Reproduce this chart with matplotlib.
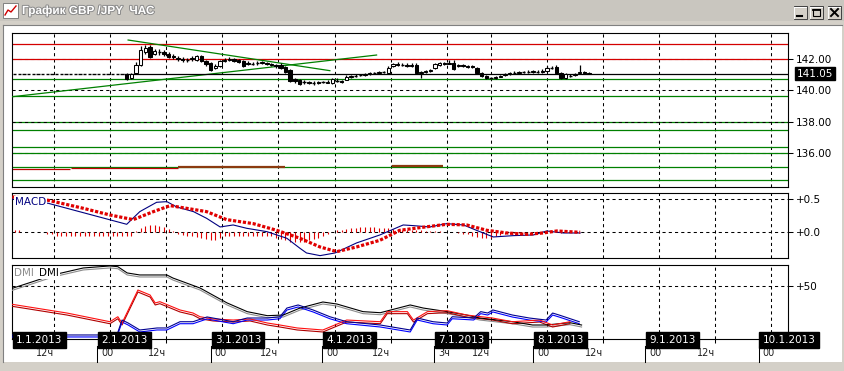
import matplotlib
matplotlib.use('Agg')
import matplotlib.pyplot as plt
from matplotlib.patches import Rectangle
from matplotlib.lines import Line2D
from matplotlib import transforms
import matplotlib.patheffects as pe

plt.rcParams['font.family'] = ['DejaVu Sans']

# ------------------------------------------------------------------ data
# hourly GBP/JPY bars (bar index 0 = first bar shown)
bar_open = [141.05, 141.05, 141.05, 141.05, 141.05, 141.05, 141.05, 141.05, 141.05, 141.05, 141.05, 141.05,
            141.05, 141.05, 141.05, 141.05, 141.05, 141.05, 141.05, 141.05, 141.05, 141.05, 141.05, 141.05,
            141.02, 140.77, 141.08, 141.59, 142.41, 142.73, 142.28, 142.41, 142.41, 142.28, 142.16, 142.03,
            141.97, 141.91, 141.97, 141.91, 142.16, 141.84, 141.72, 141.40, 141.53, 141.84, 141.91, 141.97,
            141.91, 141.84, 141.65, 141.65, 141.72, 141.72, 141.72, 141.65, 141.59, 141.59, 141.46, 141.27,
            140.70, 140.64, 140.51, 140.51, 140.45, 140.51, 140.51, 140.45, 140.45, 140.58, 140.58, 140.64,
            140.83, 140.89, 140.96, 140.96, 141.02, 141.08, 141.08, 141.15, 141.08, 141.53, 141.65, 141.59,
            141.59, 141.53, 141.59, 141.08, 141.15, 141.21, 141.40, 141.59, 141.72, 141.65, 141.72, 141.53,
            141.59, 141.53, 141.53, 141.40, 141.08, 140.89, 140.77, 140.77, 140.83, 140.96, 141.02, 141.08,
            141.08, 141.15, 141.15, 141.15, 141.15, 141.15, 141.21, 141.40, 141.46, 141.08, 140.77, 140.89,
            140.96, 141.08, 141.15, 141.08]
bar_high = [141.05, 141.05, 141.05, 141.05, 141.05, 141.05, 141.05, 141.05, 141.05, 141.05, 141.05, 141.05,
            141.05, 141.05, 141.05, 141.05, 141.05, 141.05, 141.05, 141.05, 141.05, 141.05, 141.05, 141.05,
            141.08, 141.08, 141.78, 142.79, 142.85, 142.85, 142.60, 142.60, 142.54, 142.41, 142.28, 142.16,
            142.09, 142.03, 142.16, 142.22, 142.22, 141.91, 141.78, 141.65, 141.91, 142.03, 142.09, 142.03,
            141.97, 141.91, 141.84, 141.78, 141.84, 141.84, 141.78, 141.72, 141.65, 141.72, 141.53, 141.34,
            140.77, 140.70, 140.64, 140.58, 140.58, 140.58, 140.58, 140.64, 140.77, 140.77, 140.64, 140.96,
            140.96, 141.02, 141.02, 141.08, 141.15, 141.15, 141.21, 141.21, 141.53, 141.72, 141.78, 141.72,
            141.72, 141.72, 141.72, 141.21, 141.27, 141.34, 141.72, 141.78, 141.78, 141.91, 141.91, 141.65,
            141.65, 141.59, 141.59, 141.46, 141.15, 140.96, 140.83, 140.89, 140.96, 141.08, 141.15, 141.21,
            141.21, 141.21, 141.27, 141.27, 141.27, 141.34, 141.53, 141.53, 141.59, 141.15, 141.08, 141.02,
            141.08, 141.59, 141.21, 141.15]
bar_low = [141.05, 141.05, 141.05, 141.05, 141.05, 141.05, 141.05, 141.05, 141.05, 141.05, 141.05, 141.05,
           141.05, 141.05, 141.05, 141.05, 141.05, 141.05, 141.05, 141.05, 141.05, 141.05, 141.05, 141.05,
           140.64, 140.70, 141.02, 141.53, 142.28, 142.03, 142.22, 142.22, 142.16, 142.03, 141.97, 141.84,
           141.78, 141.78, 141.84, 141.84, 141.78, 141.53, 141.21, 141.34, 141.46, 141.78, 141.84, 141.78,
           141.72, 141.46, 141.59, 141.59, 141.59, 141.65, 141.59, 141.53, 141.40, 141.34, 141.08, 140.51,
           140.45, 140.32, 140.39, 140.39, 140.32, 140.39, 140.45, 140.45, 140.39, 140.51, 140.45, 140.64,
           140.77, 140.83, 140.89, 140.89, 140.96, 141.02, 141.08, 141.08, 141.02, 141.46, 141.53, 141.53,
           141.46, 141.46, 141.02, 140.77, 141.08, 141.15, 141.34, 141.53, 141.59, 141.65, 141.27, 141.46,
           141.46, 141.40, 141.40, 141.02, 140.83, 140.70, 140.70, 140.70, 140.83, 140.89, 140.96, 141.02,
           141.08, 141.08, 141.08, 141.08, 141.08, 141.08, 141.15, 141.34, 141.02, 140.70, 140.70, 140.83,
           140.89, 141.02, 141.02, 141.02]
bar_close = [141.05, 141.05, 141.05, 141.05, 141.05, 141.05, 141.05, 141.05, 141.05, 141.05, 141.05, 141.05,
             141.05, 141.05, 141.05, 141.05, 141.05, 141.05, 141.05, 141.05, 141.05, 141.05, 141.05, 141.05,
             140.70, 141.02, 141.59, 142.54, 142.66, 142.09, 142.47, 142.41, 142.28, 142.09, 142.09, 141.97,
             141.91, 141.91, 142.03, 142.16, 141.84, 141.65, 141.27, 141.53, 141.84, 141.91, 141.97, 141.84,
             141.78, 141.53, 141.72, 141.65, 141.72, 141.78, 141.65, 141.59, 141.53, 141.40, 141.15, 140.58,
             140.58, 140.39, 140.51, 140.45, 140.45, 140.45, 140.51, 140.51, 140.70, 140.58, 140.51, 140.83,
             140.89, 140.89, 140.96, 141.02, 141.08, 141.08, 141.15, 141.15, 141.40, 141.65, 141.59, 141.59,
             141.53, 141.59, 141.08, 141.15, 141.21, 141.27, 141.65, 141.72, 141.65, 141.72, 141.34, 141.59,
             141.53, 141.46, 141.46, 141.08, 140.89, 140.77, 140.77, 140.83, 140.89, 141.02, 141.08, 141.08,
             141.15, 141.15, 141.15, 141.21, 141.15, 141.21, 141.40, 141.40, 141.08, 140.77, 141.02, 140.89,
             141.02, 141.15, 141.08, 141.05]
first_active_bar = 24

price_ticks = [136.0, 138.0, 140.0, 142.0]
red_levels = [142.90, 142.00]
green_levels = [140.68, 139.61, 137.46, 136.43, 136.00, 135.16, 134.30]
green_level_under_grid = [138.00]
# horizontal support segments: (from bar, to bar, price)
seg_red = [(-0.5, 11.9, 134.99), (12.1, 34.9, 135.05)]
seg_brown = [(35.0, 57.9, 135.13), (80.7, 91.8, 135.22)]
# trend lines (bar, price)
trend_up_x = [-0.5, 77.5]
trend_up_y = [139.58, 142.22]
trend_dn_x = [24.3, 67.5]
trend_dn_y = [143.17, 141.23]

# MACD (bar, value)
macd_x = [-0.5, 7.2, 24.0, 26.8, 30.4, 32.6, 34.7, 38.3, 41.1, 44.0, 46.8, 49.7, 54.0, 58.3, 61.1, 62.5,
          65.4, 68.6, 73.2, 78.2, 83.2, 85.4, 88.9, 92.5, 96.1, 99.6, 102.5, 106.8, 111.1, 113.9, 117.5, 121.1]
macd_v = [0.50, 0.435, 0.12, 0.31, 0.45, 0.46, 0.38, 0.31, 0.21, 0.08, 0.11, 0.06, 0.01, -0.09, -0.24, -0.31,
          -0.35, -0.31, -0.16, -0.04, 0.11, 0.10, 0.08, 0.13, 0.11, 0.01, -0.07, -0.05, -0.04, 0.02, -0.01, -0.01]
signal_x = [-0.5, 7.2, 14.7, 20.4, 25.4, 29.7, 33.3, 36.8, 41.1, 45.4, 51.1, 56.1, 61.1, 65.4, 69.0, 73.2,
            78.2, 82.5, 86.8, 92.5, 96.8, 101.1, 105.4, 109.7, 113.2, 116.1, 121.1]
signal_v = [0.53, 0.48, 0.36, 0.26, 0.19, 0.31, 0.40, 0.36, 0.31, 0.19, 0.13, 0.03, -0.09, -0.22, -0.29, -0.22,
            -0.12, 0.03, 0.07, 0.12, 0.11, 0.03, -0.01, -0.03, -0.01, 0.02, 0.00]
macd_hist = [0.04, 0.04, 0.0, 0.0, 0.0, 0.0, 0.0,
             -0.02, -0.02, -0.05, -0.05, -0.05, -0.05, -0.05, -0.05, -0.05, -0.05, -0.05, -0.05, -0.05,
             -0.05, -0.05, -0.05, -0.05, -0.05, -0.05,
             0.02, 0.06, 0.09, 0.11, 0.11, 0.10, 0.08, 0.05, 0.02,
             -0.03, -0.04, -0.05, -0.05, -0.07, -0.09,
             -0.10, -0.12, -0.11, -0.08,
             -0.06, -0.05, -0.05, -0.06, -0.06, -0.06, -0.06, -0.05, -0.05, -0.05, -0.06,
             -0.08, -0.10, -0.12, -0.14, -0.15, -0.15, -0.14,
             -0.12, -0.10, -0.08, -0.06, -0.03,
             0.01, 0.03, 0.04, 0.05, 0.06, 0.07, 0.08, 0.08, 0.08, 0.08, 0.07, 0.07,
             0.06, 0.05, 0.05, 0.04, 0.04, 0.03, 0.03, 0.03, 0.02, 0.02, 0.02, 0.02, 0.01,
             0.00, 0.00, -0.01, -0.02, -0.03,
             -0.05, -0.07, -0.08, -0.09, -0.08, -0.06, -0.04,
             -0.02, -0.02, -0.01, -0.01, -0.01, 0.0, 0.0, 0.01, 0.01, 0.01, 0.0, 0.0, -0.01, 0.0, 0.01,
             0.0, 0.0, 0.0, 0.0]
macd_ticks = [0.0, 0.5]
macd_ticklabels = ['+0.0', '+0.5']

# DMI (bar, value)
adx_x = [-0.5, 3.9, 8.2, 14.7, 20.4, 22.1, 24.1, 26.8, 32.6, 33.9, 39.7, 45.5, 49.8, 54.1, 57.5, 61.1, 66.0,
         69.0, 74.6, 78.3, 84.7, 87.5, 92.6, 96.8, 99.6, 106.6, 110.9, 113.8, 118.9, 121.4]
adx_v = [47.8, 54.1, 60.4, 67.0, 68.9, 68.2, 62.3, 60.4, 60.4, 57.5, 48.1, 34.0, 25.8, 22.0, 22.6, 29.2, 34.9,
         33.0, 25.8, 24.8, 32.1, 29.2, 25.8, 22.6, 19.8, 16.3, 13.2, 13.2, 15.4, 13.2]
mdi_x = [-0.5, 11.2, 20.4, 22.1, 23.0, 26.4, 29.0, 30.1, 31.1, 35.4, 38.2, 39.7, 42.5, 46.8, 50.4, 54.1, 56.8,
         60.5, 66.0, 71.1, 78.3, 79.8, 84.1, 85.4, 88.4, 92.6, 96.8, 102.3, 106.6, 112.4, 115.2, 118.9]
mdi_v = [32.7, 24.5, 16.3, 21.0, 15.1, 46.2, 41.5, 34.0, 35.2, 27.4, 24.5, 21.0, 18.9, 17.9, 18.9, 15.1, 13.2,
         10.4, 8.5, 17.9, 16.3, 25.8, 25.8, 17.9, 25.8, 26.7, 22.6, 19.8, 16.3, 17.9, 13.2, 16.3]
pdi_x = [-0.5, 17.6, 21.9, 23.0, 24.3, 26.8, 30.5, 32.6, 35.4, 38.2, 41.2, 46.8, 49.8, 54.1, 56.8, 58.3, 60.7,
         63.9, 67.5, 71.1, 78.3, 84.7, 86.2, 89.6, 92.6, 93.7, 98.3, 99.8, 101.3, 102.4, 106.6, 110.2, 113.8,
         115.2, 116.6, 120.9]
pdi_v = [3.8, 3.8, 3.8, 17.9, 15.1, 8.5, 10.4, 10.4, 16.3, 16.3, 20.8, 16.3, 19.8, 19.8, 21.0, 29.2, 32.1,
         27.4, 21.0, 16.3, 13.2, 8.5, 19.8, 16.3, 15.1, 21.0, 19.8, 25.8, 24.5, 27.4, 22.6, 19.8, 17.9,
         24.5, 22.6, 16.3]
dmi_ticks = [50]
dmi_ticklabels = ['+50']

# time axis
day_labels = ['1.1.2013', '2.1.2013', '3.1.2013', '4.1.2013', '7.1.2013', '8.1.2013', '9.1.2013', '10.1.2013']
day_starts = [-0.5, 17.7, 42.0, 65.9, 89.9, 111.1, 135.0, 159.3]
day_first_hour = [None, '00', '00', '00', '3ч', '00', '00', '00']
hour_ticks = [8.5, 32.5, 56.5, 80.5, 101.9, 125.9, 149.9]
hour_labels = ['12ч', '12ч', '12ч', '12ч', '12ч', '12ч', '12ч']
grid_x = [8.5, 20.5, 32.5, 44.5, 56.5, 68.5, 80.5, 92.5, 101.9, 113.9, 125.9, 137.9, 149.9, 161.9]

title = 'График GBP /JPY  ЧАС'

# ------------------------------------------------------------------ figure
W, H = 845, 371
fig = plt.figure(figsize=(W / 100, H / 100), dpi=100)
fig.patch.set_facecolor('#d4d0c8')


def fx(px):
    return px / W


def fy(py):
    return 1 - py / H


def frect(x0, y0, x1, y1, **kw):
    fig.add_artist(Rectangle((fx(x0), fy(y1)), fx(x1) - fx(x0), fy(y0) - fy(y1),
                             transform=fig.transFigure, **kw))


def fline(xs, ys, **kw):
    fig.add_artist(Line2D([fx(x) for x in xs], [fy(y) for y in ys], transform=fig.transFigure, **kw))


# window chrome
frect(0, 0, 845, 21, facecolor='#c9c6bf', edgecolor='none', zorder=-5)
frect(4, 25, 842, 362, facecolor='white', edgecolor='none', zorder=-5)
fline([3.5, 3.5], [24.5, 362], color='#808080', lw=0.8, zorder=-4)
fline([3.5, 842], [24.5, 24.5], color='#808080', lw=0.8, zorder=-4)
# icon
frect(3, 3, 18, 18, facecolor='white', edgecolor='#808080', lw=0.7, zorder=5)
fline([5, 8, 11, 16], [15, 10, 12, 6], color='#d00000', lw=1.0, zorder=6)
fig.text(fx(22), fy(11), title, fontsize=8.5, fontweight='bold', color='white', va='center', ha='left',
         family=['Liberation Sans', 'DejaVu Sans'],
         path_effects=[pe.withStroke(linewidth=1.4, foreground='#8a8a8a')], zorder=6)
# buttons
for bx in (794, 810, 828):
    frect(bx, 6.5, bx + 13, 18.5, facecolor='#d4d0c8', edgecolor='#404040', lw=0.7, zorder=5)
    fline([bx, bx + 12.5], [6.8, 6.8], color='white', lw=0.7, zorder=6)
    fline([bx + 0.3, bx + 0.3], [6.8, 18], color='white', lw=0.7, zorder=6)
fline([797, 802], [15.5, 15.5], color='black', lw=1.5, zorder=7)
frect(813, 9, 820, 16, facecolor='none', edgecolor='black', lw=0.8, zorder=7)
fline([813, 820], [9.5, 9.5], color='black', lw=1.3, zorder=7)
fline([831, 838], [9, 16], color='black', lw=1.4, zorder=7)
fline([831, 838], [16, 9], color='black', lw=1.4, zorder=7)

XL = (-0.5, 165.6)
DASH = (0, (3, 3))


def make_ax(top, bottom):
    a = fig.add_axes([fx(12.3), fy(bottom), fx(788) - fx(12.3), fy(top) - fy(bottom)])
    a.set_facecolor('white')
    a.set_xlim(*XL)
    for s in a.spines.values():
        s.set_linewidth(0.8)
        s.set_color('black')
    a.yaxis.tick_right()
    a.tick_params(axis='y', direction='out', length=3.5, width=0.75, labelsize=7.5, pad=2, colors='black')
    a.set_xticks([])
    for g in grid_x:
        a.axvline(g, color='black', lw=0.75, ls=DASH, zorder=1)
    return a


# ---------------- price panel
ax1 = make_ax(33, 187)
ax1.set_ylim(133.867, 143.614)
ax1.set_yticks(price_ticks)
ax1.set_yticklabels([f'{t:.2f}' for t in price_ticks])
for t in price_ticks:
    ax1.axhline(t, color='black', lw=0.75, ls=DASH, zorder=1)
for lv in green_level_under_grid:
    ax1.axhline(lv, color='#008000', lw=0.9, zorder=0.5)
for lv in green_levels:
    ax1.axhline(lv, color='#008000', lw=0.9, zorder=2)
for lv in red_levels:
    ax1.axhline(lv, color='#d40000', lw=0.9, zorder=2)
for x0, x1, p in seg_red:
    ax1.hlines(p, x0, x1, color='#c00000', lw=0.9, zorder=2.5)
for x0, x1, p in seg_brown:
    ax1.hlines(p, x0, x1, color='#8b3a0f', lw=1.6, zorder=2.5)
ax1.plot(trend_up_x, trend_up_y, color='#008000', lw=0.9, zorder=3)
ax1.plot(trend_dn_x, trend_dn_y, color='#008000', lw=0.9, zorder=3)
ax1.hlines(bar_close[-1], first_active_bar - 0.5, XL[1], color='black', lw=0.9, zorder=3)

for i in range(len(bar_close)):
    o, h, l, c = bar_open[i], bar_high[i], bar_low[i], bar_close[i]
    if h > l:
        ax1.vlines(i, l, h, color='black', lw=0.9, zorder=4)
    if c == o:
        ax1.hlines(c, i - 0.36, i + 0.36, color='black', lw=1.0, zorder=5)
    else:
        ax1.bar(i, c - o, bottom=o, width=0.72, facecolor='white' if c > o else 'black',
                edgecolor='black', lw=0.75, zorder=5)

ax1.annotate(f'{bar_close[-1]:.2f}', xy=(1, bar_close[-1]), xycoords=('axes fraction', 'data'),
             xytext=(9, 0), textcoords='offset pixels', ha='left', va='center', color='white',
             fontsize=7.5, bbox=dict(boxstyle='square,pad=0.15', fc='black', ec='black'), annotation_clip=False)

# ---------------- MACD panel
ax2 = make_ax(193.3, 258.3)
ax2.set_ylim(-0.39, 0.585)
ax2.set_yticks(macd_ticks)
ax2.set_yticklabels(macd_ticklabels)
for t in macd_ticks:
    ax2.axhline(t, color='black', lw=0.75, ls=DASH, zorder=1)
ax2.vlines(range(len(macd_hist)), 0, macd_hist, color='#e00000', lw=0.8, zorder=3)
ax2.plot(macd_x, macd_v, color='#000080', lw=0.8, zorder=4)
ax2.plot(signal_x, signal_v, color='#e00000', lw=2.3, ls=(0, (1, 0.55)), zorder=5)
ax2.text(0.003, 0.87, 'MACD', transform=ax2.transAxes, color='#000080', fontsize=7.5, ha='left', va='center',
         bbox=dict(boxstyle='square,pad=0.1', fc='white', ec='none'), zorder=10)

# ---------------- DMI panel
ax3 = make_ax(265, 339)
ax3.set_ylim(0, 69.8)
ax3.set_yticks(dmi_ticks)
ax3.set_yticklabels(dmi_ticklabels)
ax3.axhline(50, color='black', lw=0.75, ls=DASH, zorder=1)
ax3.set_xticks(hour_ticks)
ax3.set_xticklabels([])
ax3.tick_params(axis='x', direction='out', length=3, width=0.75)

off = transforms.offset_copy(ax3.transData, fig=fig, x=0, y=-2, units='dots')
ax3.plot(adx_x, adx_v, color='#8c8c8c', lw=0.8, zorder=3, transform=off)
ax3.plot(adx_x, adx_v, color='black', lw=0.8, zorder=3.1)
ax3.plot(mdi_x, mdi_v, color='#b00000', lw=0.8, zorder=3, transform=off)
ax3.plot(mdi_x, mdi_v, color='#ff1010', lw=0.8, zorder=3.1)
ax3.plot(pdi_x, pdi_v, color='#0000ff', lw=0.8, zorder=3, transform=off)
ax3.plot(pdi_x, pdi_v, color='#000090', lw=0.8, zorder=3.1)

fig.text(fx(14), fy(273), 'DMI', color='#8c8c8c', fontsize=7.5, ha='left', va='center',
         bbox=dict(boxstyle='square,pad=0.1', fc='white', ec='none'), zorder=10)
fig.text(fx(39), fy(273), 'DMI', color='black', fontsize=7.5, ha='left', va='center',
         bbox=dict(boxstyle='square,pad=0.1', fc='white', ec='none'), zorder=10)

# time axis
tb = transforms.blended_transform_factory(ax3.transData, ax3.transAxes)
box_t = transforms.offset_copy(tb, fig=fig, x=4, y=-1, units='dots')
hour_t = transforms.offset_copy(tb, fig=fig, x=4, y=0, units='dots')
lab_y = -13.5 / 74
for d, lab, fh in zip(day_starts, day_labels, day_first_hour):
    ax3.text(d, 0, lab, transform=box_t, ha='left', va='center', color='white', fontsize=7.5,
             bbox=dict(boxstyle='square,pad=0.3', fc='black', ec='black'), clip_on=False, zorder=10)
    if fh is not None:
        ax3.plot([d, d], [-6.5 / 74, -22.5 / 74], transform=tb, color='black', lw=0.75, clip_on=False)
        ax3.text(d, lab_y, fh, transform=hour_t, ha='left', va='center', fontsize=7, color='#202020',
                 clip_on=False)
for t, lab in zip(hour_ticks, hour_labels):
    ax3.text(t, lab_y, lab, transform=tb, ha='right', va='center', fontsize=7, color='#202020', clip_on=False)

fig.savefig('out.png', dpi=100, facecolor=fig.get_facecolor())
